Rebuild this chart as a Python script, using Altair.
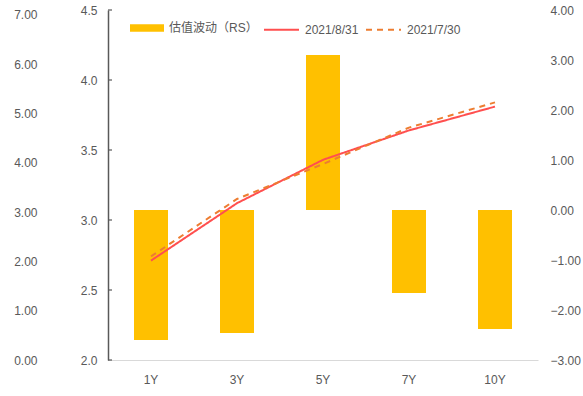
import altair as alt
import pandas as pd

tenors = ["1Y", "3Y", "5Y", "7Y", "10Y"]
rs_values = [-2.60, -2.46, 3.10, -1.66, -2.38]
yield_0831 = [2.71, 3.12, 3.43, 3.64, 3.81]
yield_0730 = [2.74, 3.15, 3.40, 3.66, 3.84]
series_names = ["2021/8/31", "2021/7/30"]
bar_name = "估值波动（RS）"
left_ticks = [2.0, 2.5, 3.0, 3.5, 4.0, 4.5]
outer_ticks = [0, 1, 2, 3, 4, 5, 6, 7]
right_ticks = [-3, -2, -1, 0, 1, 2, 3, 4]

bars_df = pd.DataFrame({"tenor": tenors, "rs": rs_values, "name": [bar_name] * len(tenors)})
lines_df = pd.DataFrame({
    "tenor": tenors * 2,
    "yield": yield_0831 + yield_0730,
    "series": [series_names[0]] * len(tenors) + [series_names[1]] * len(tenors),
})
ticks_df = pd.DataFrame({"t": left_ticks})
outer_df = pd.DataFrame({"v": [outer_ticks[0], outer_ticks[-1]]})

FONT = "Liberation Sans Narrow, Liberation Sans, Noto Sans CJK SC, sans-serif"
GRAY = "#595959"

x_enc = alt.X("tenor:N", sort=tenors, title=None,
              scale=alt.Scale(paddingInner=0, paddingOuter=0),
              axis=alt.Axis(labelAngle=0, domainColor="#d9d9d9", domainWidth=1,
                            ticks=False, labelPadding=14, labelColor=GRAY,
                            labelFont=FONT, labelFontSize=12))

bars = alt.Chart(bars_df).mark_bar(size=34).encode(
    x=x_enc,
    y=alt.Y("rs:Q", title=None,
            scale=alt.Scale(domain=[-3, 4], nice=False, zero=False),
            axis=alt.Axis(orient="right", values=right_ticks, format=".2f",
                          domain=False, ticks=False, grid=False, labelPadding=12,
                          labelColor=GRAY, labelFont=FONT, labelFontSize=12)),
    fill=alt.Fill("name:N", title=None,
                  scale=alt.Scale(domain=[bar_name], range=["#FFC000"]),
                  legend=alt.Legend(orient="none", legendX=22, legendY=1,
                                    symbolType="M-1,-0.22L1,-0.22L1,0.22L-1,0.22Z",
                                    symbolSize=1156, symbolStrokeWidth=0,
                                    labelFont=FONT, labelFontSize=12, labelColor=GRAY,
                                    labelOffset=5, padding=0)),
)

line_legend = dict(orient="none", legendX=155, legendY=1, direction="horizontal",
                   symbolType="stroke", symbolSize=1225, symbolStrokeWidth=2,
                   labelFont=FONT, labelFontSize=12, labelColor=GRAY,
                   labelOffset=5, columnPadding=3, padding=0)

lines = alt.Chart(lines_df).mark_line(strokeWidth=2).encode(
    x=alt.X("tenor:N", sort=tenors),
    y=alt.Y("yield:Q", title=None,
            scale=alt.Scale(domain=[2.0, 4.5], nice=False, zero=False),
            axis=alt.Axis(orient="left", values=left_ticks, format=".1f",
                          domainColor=GRAY, domainWidth=1.5, ticks=False, grid=False,
                          labelPadding=11, labelColor=GRAY, labelFont=FONT,
                          labelFontSize=12)),
    color=alt.Color("series:N", title=None,
                    scale=alt.Scale(domain=series_names, range=["#FF4F4F", "#ED7D31"]),
                    legend=alt.Legend(**line_legend)),
    strokeDash=alt.StrokeDash("series:N", title=None,
                              scale=alt.Scale(domain=series_names, range=[[1, 0], [6, 5]]),
                              legend=alt.Legend(**line_legend)),
    order=alt.Order("series:N", sort="ascending"),
)

ticks = alt.Chart(ticks_df).mark_tick(orient="horizontal", size=4, thickness=1.2,
                                      color=GRAY, opacity=1).encode(
    y=alt.Y("t:Q"),
    x=alt.value(2),
)

outer = alt.Chart(outer_df).mark_point(opacity=0).encode(
    y=alt.Y("v:Q", title=None,
            scale=alt.Scale(domain=[0, 7.1], nice=False, zero=False),
            axis=alt.Axis(orient="left", offset=60, values=outer_ticks, format=".2f",
                          domain=False, ticks=False, grid=False, labelPadding=11,
                          labelColor=GRAY, labelFont=FONT, labelFontSize=12)),
)

chart = alt.layer(bars, alt.layer(lines, ticks), outer).resolve_scale(
    y="independent"
).properties(
    width=430, height=350,
    background="white",
    autosize=alt.AutoSizeParams(type="none"),
    padding={"left": 108, "top": 10, "right": 45, "bottom": 36},
).configure_view(stroke=None)

chart.save("out.html", embed_options={"renderer": "svg", "actions": False})
